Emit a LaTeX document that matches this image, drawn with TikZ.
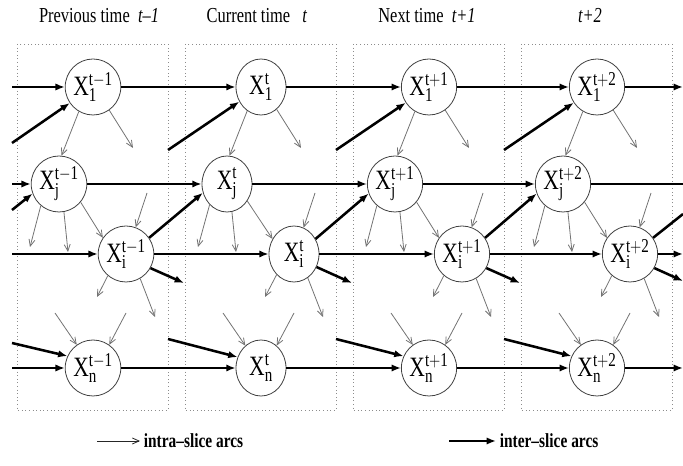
\documentclass[tikz,border=0pt]{standalone}
\usepackage{fontspec}
\setmainfont{Liberation Serif}
\usepackage{graphicx}
\usetikzlibrary{arrows.meta,shapes.geometric}

\newcommand{\slim}[1]{\scalebox{0.77}[1]{#1}}

\tikzset{every picture/.style={line width=0.75pt}}
\tikzset{
  varnode/.style={ellipse, draw=black!75, line width=0.6pt, fill=white, minimum width=37.5pt, minimum height=42pt, inner sep=0pt, font=\fontsize{21}{21}\selectfont},
  slicebox/.style={draw=black!45, line width=0.7pt, dotted},
  interarc/.style={line width=1.9pt, -{Latex[length=7pt,width=5.5pt]}},
  interline/.style={line width=1.9pt},
  intraarc/.style={draw=black!55, line width=0.6pt, -{Straight Barb[length=5pt,width=4.5pt]}},
  titletext/.style={font=\fontsize{16}{16}\selectfont},
  legendtext/.style={font=\fontsize{15}{15}\selectfont\bfseries, anchor=west, inner sep=2.5pt}
}

\begin{document}
\begin{tikzpicture}[x=0.75pt,y=0.75pt,yscale=-1,xscale=1]
\useasboundingbox (0,0) rectangle (683,466);

%Shape: Rectangle (slices)
\draw [slicebox] (17,44) rectangle (168,410);
\draw [slicebox] (185,44) rectangle (336,410);
\draw [slicebox] (353,44) rectangle (504,410);
\draw [slicebox] (521,44) rectangle (672,410);

% Text Node
\draw (99,16) node [titletext] (tprev) {\slim{Previous time \ \textit{t--1}}};
% Text Node
\draw (257,16) node [titletext] (tcur) {\slim{Current time \ \ \textit{t}}};
% Text Node
\draw (427,16) node [titletext] (tnext) {\slim{Next time \ \textit{t+1}}};
% Text Node
\draw (590,16) node [titletext] (tnnext) {\slim{\textit{t+2}}};

%Shape: Ellipse (slice t-1)
\draw (93,87) node [varnode] (X1a) {\slim{$\mathrm{X}^{\mathrm{t-1}}_{\mathrm{1}}$}};
\draw (59,184) node [varnode] (Xja) {\slim{$\mathrm{X}^{\mathrm{t-1}}_{\mathrm{j}}$}};
\draw (126,254) node [varnode] (Xia) {\slim{$\mathrm{X}^{\mathrm{t-1}}_{\mathrm{i}}$}};
\draw (93,368) node [varnode] (Xna) {\slim{$\mathrm{X}^{\mathrm{t-1}}_{\mathrm{n}}$}};
%Shape: Ellipse (slice t)
\draw (261,87) node [varnode] (X1b) {\slim{$\mathrm{X}^{\mathrm{t}}_{\mathrm{1}}$}};
\draw (227,184) node [varnode] (Xjb) {\slim{$\mathrm{X}^{\mathrm{t}}_{\mathrm{j}}$}};
\draw (294,254) node [varnode] (Xib) {\slim{$\mathrm{X}^{\mathrm{t}}_{\mathrm{i}}$}};
\draw (261,368) node [varnode] (Xnb) {\slim{$\mathrm{X}^{\mathrm{t}}_{\mathrm{n}}$}};
%Shape: Ellipse (slice t+1)
\draw (429,87) node [varnode] (X1c) {\slim{$\mathrm{X}^{\mathrm{t+1}}_{\mathrm{1}}$}};
\draw (395,184) node [varnode] (Xjc) {\slim{$\mathrm{X}^{\mathrm{t+1}}_{\mathrm{j}}$}};
\draw (462,254) node [varnode] (Xic) {\slim{$\mathrm{X}^{\mathrm{t+1}}_{\mathrm{i}}$}};
\draw (429,368) node [varnode] (Xnc) {\slim{$\mathrm{X}^{\mathrm{t+1}}_{\mathrm{n}}$}};
%Shape: Ellipse (slice t+2)
\draw (597,87) node [varnode] (X1d) {\slim{$\mathrm{X}^{\mathrm{t+2}}_{\mathrm{1}}$}};
\draw (563,184) node [varnode] (Xjd) {\slim{$\mathrm{X}^{\mathrm{t+2}}_{\mathrm{j}}$}};
\draw (630,254) node [varnode] (Xid) {\slim{$\mathrm{X}^{\mathrm{t+2}}_{\mathrm{i}}$}};
\draw (597,368) node [varnode] (Xnd) {\slim{$\mathrm{X}^{\mathrm{t+2}}_{\mathrm{n}}$}};

% free ends at the left and right borders
\coordinate (L1) at (12,87);
\coordinate (Lj) at (12,184);
\coordinate (Li) at (12,254);
\coordinate (Ln) at (12,368);
\coordinate (Ld1) at (12,143);
\coordinate (Ldj) at (12,210);
\coordinate (Ldn) at (12,343);
\coordinate (R1) at (683,87);
\coordinate (Rj) at (683,184);
\coordinate (Ri) at (683,254);
\coordinate (Rn) at (683,368);
\coordinate (Rdj) at (683,214);
\coordinate (Rdi) at (683,281);
% free ends of the inter-slice arcs
\coordinate (D1b) at (168,150);
\coordinate (D1c) at (336,150);
\coordinate (D1d) at (504,150);
\coordinate (Dnb) at (168,339);
\coordinate (Dnc) at (336,339);
\coordinate (Dnd) at (504,339);
\coordinate (Eia) at (184,283);
\coordinate (Eib) at (352,283);
\coordinate (Eic) at (520,283);
% free ends of the intra-slice arcs
\coordinate (O1a) at (133,148);
\coordinate (O1b) at (301,148);
\coordinate (O1c) at (469,148);
\coordinate (O1d) at (637,148);
\coordinate (Ojla) at (30,247);
\coordinate (Ojlb) at (198,247);
\coordinate (Ojlc) at (366,247);
\coordinate (Ojld) at (534,247);
\coordinate (Ojda) at (68,252);
\coordinate (Ojdb) at (236,252);
\coordinate (Ojdc) at (404,252);
\coordinate (Ojdd) at (572,252);
\coordinate (Iia) at (147,193);
\coordinate (Iib) at (315,193);
\coordinate (Iic) at (483,193);
\coordinate (Iid) at (651,193);
\coordinate (Oila) at (97,297);
\coordinate (Oilb) at (265,297);
\coordinate (Oilc) at (433,297);
\coordinate (Oild) at (601,297);
\coordinate (Oira) at (155,317);
\coordinate (Oirb) at (323,317);
\coordinate (Oirc) at (491,317);
\coordinate (Oird) at (659,317);
\coordinate (Inla) at (55,313);
\coordinate (Inlb) at (223,313);
\coordinate (Inlc) at (391,313);
\coordinate (Inld) at (559,313);
\coordinate (Inra) at (126,313);
\coordinate (Inrb) at (294,313);
\coordinate (Inrc) at (462,313);
\coordinate (Inrd) at (630,313);

%Straight Lines (inter-slice, into t-1)
\draw [interarc] (L1) -- (X1a);
\draw [interarc] (Ld1) -- (X1a);
\draw [interarc] (Lj) -- (Xja);
\draw [interarc] (Ldj) -- (Xja.200);
\draw [interarc] (Li) -- (Xia);
\draw [interarc] (Ln) -- (Xna);
\draw [interarc] (Ldn) -- (Xna.155);
%Straight Lines (inter-slice, into t)
\draw [interarc] (X1a) -- (X1b);
\draw [interarc] (D1b) -- (X1b);
\draw [interarc] (Xja) -- (Xjb);
\draw [interarc] (Xia.35) -- (Xjb.200);
\draw [interarc] (Xia) -- (Xib);
\draw [interarc] (Xia.-30) -- (Eia);
\draw [interarc] (Xna) -- (Xnb);
\draw [interarc] (Dnb) -- (Xnb.155);
%Straight Lines (inter-slice, into t+1)
\draw [interarc] (X1b) -- (X1c);
\draw [interarc] (D1c) -- (X1c);
\draw [interarc] (Xjb) -- (Xjc);
\draw [interarc] (Xib.35) -- (Xjc.200);
\draw [interarc] (Xib) -- (Xic);
\draw [interarc] (Xib.-30) -- (Eib);
\draw [interarc] (Xnb) -- (Xnc);
\draw [interarc] (Dnc) -- (Xnc.155);
%Straight Lines (inter-slice, into t+2)
\draw [interarc] (X1c) -- (X1d);
\draw [interarc] (D1d) -- (X1d);
\draw [interarc] (Xjc) -- (Xjd);
\draw [interarc] (Xic.35) -- (Xjd.200);
\draw [interarc] (Xic) -- (Xid);
\draw [interarc] (Xic.-30) -- (Eic);
\draw [interarc] (Xnc) -- (Xnd);
\draw [interarc] (Dnd) -- (Xnd.155);
%Straight Lines (inter-slice, out of t+2)
\draw [interarc] (X1d) -- (R1);
\draw [interline] (Xjd) -- (Rj);
\draw [interline] (Xid.35) -- (Rdj);
\draw [interarc] (Xid) -- (Ri);
\draw [interarc] (Xid.-30) -- (Rdi);
\draw [interarc] (Xnd) -- (Rn);

%Straight Lines (intra-slice, t-1)
\draw [intraarc] (X1a.240) -- (Xja.85);
\draw [intraarc] (X1a.-55) -- (O1a);
\draw [intraarc] (Xja.230) -- (Ojla);
\draw [intraarc] (Xja.-80) -- (Ojda);
\draw [intraarc] (Xja.-40) -- (Xia.145);
\draw [intraarc] (Iia) -- (Xia.70);
\draw [intraarc] (Xia.230) -- (Oila);
\draw [intraarc] (Xia.-60) -- (Oira);
\draw [intraarc] (Inla) -- (Xna.125);
\draw [intraarc] (Inra) -- (Xna.55);
%Straight Lines (intra-slice, t)
\draw [intraarc] (X1b.240) -- (Xjb.85);
\draw [intraarc] (X1b.-55) -- (O1b);
\draw [intraarc] (Xjb.230) -- (Ojlb);
\draw [intraarc] (Xjb.-80) -- (Ojdb);
\draw [intraarc] (Xjb.-40) -- (Xib.145);
\draw [intraarc] (Iib) -- (Xib.70);
\draw [intraarc] (Xib.230) -- (Oilb);
\draw [intraarc] (Xib.-60) -- (Oirb);
\draw [intraarc] (Inlb) -- (Xnb.125);
\draw [intraarc] (Inrb) -- (Xnb.55);
%Straight Lines (intra-slice, t+1)
\draw [intraarc] (X1c.240) -- (Xjc.85);
\draw [intraarc] (X1c.-55) -- (O1c);
\draw [intraarc] (Xjc.230) -- (Ojlc);
\draw [intraarc] (Xjc.-80) -- (Ojdc);
\draw [intraarc] (Xjc.-40) -- (Xic.145);
\draw [intraarc] (Iic) -- (Xic.70);
\draw [intraarc] (Xic.230) -- (Oilc);
\draw [intraarc] (Xic.-60) -- (Oirc);
\draw [intraarc] (Inlc) -- (Xnc.125);
\draw [intraarc] (Inrc) -- (Xnc.55);
%Straight Lines (intra-slice, t+2)
\draw [intraarc] (X1d.240) -- (Xjd.85);
\draw [intraarc] (X1d.-55) -- (O1d);
\draw [intraarc] (Xjd.230) -- (Ojld);
\draw [intraarc] (Xjd.-80) -- (Ojdd);
\draw [intraarc] (Xjd.-40) -- (Xid.145);
\draw [intraarc] (Iid) -- (Xid.70);
\draw [intraarc] (Xid.230) -- (Oild);
\draw [intraarc] (Xid.-60) -- (Oird);
\draw [intraarc] (Inld) -- (Xnd.125);
\draw [intraarc] (Inrd) -- (Xnd.55);

% Text Node (legend)
\coordinate (Lga) at (97,441);
\coordinate (Lgb) at (449,441);
\draw (140,441) node [legendtext] (intraLab) {\slim{intra--slice arcs}};
\draw (496,441) node [legendtext] (interLab) {\slim{inter--slice arcs}};
\draw [intraarc, draw=black!85] (Lga) -- (intraLab);
\draw [interarc] (Lgb) -- (interLab);

\end{tikzpicture}
\end{document}
